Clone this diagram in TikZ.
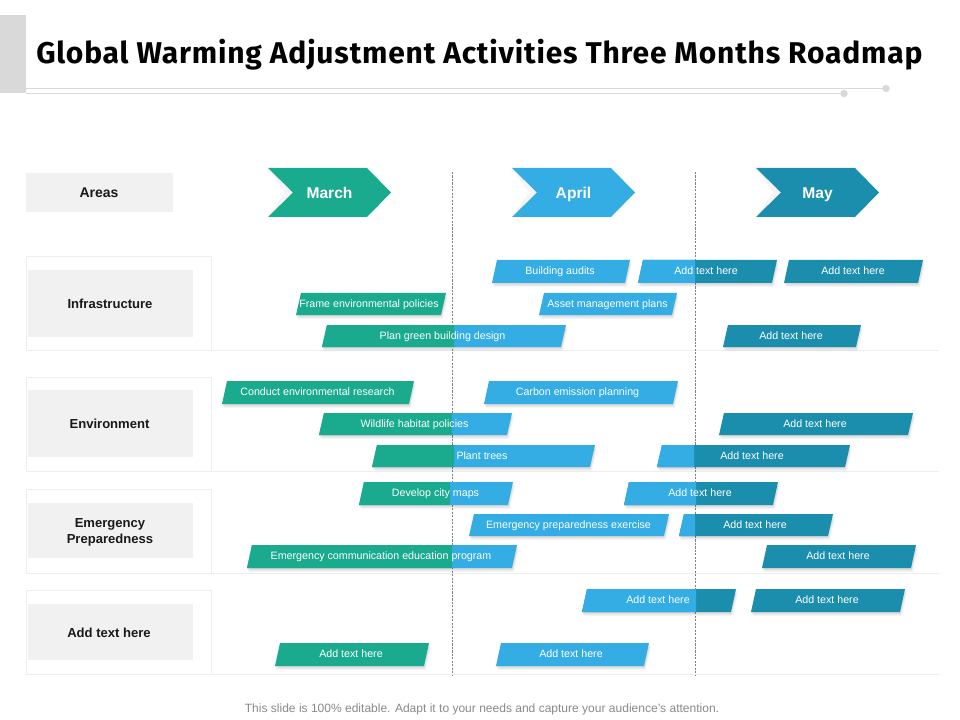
\documentclass[tikz,border=0pt]{standalone}
\usepackage{fontspec}
\setmainfont{Liberation Sans}
\newfontfamily\titlefont[LetterSpace=2.7]{Fira Sans}
\definecolor{cgreen}{HTML}{1AAB8E}
\definecolor{cblue}{HTML}{33ADE3}
\definecolor{cteal}{HTML}{1B8EAE}
\definecolor{cbox}{HTML}{F1F1F1}
\definecolor{cframe}{HTML}{EEEEEE}
\definecolor{crule}{HTML}{D9D9D9}
\definecolor{cdash}{HTML}{7F7F7F}
\definecolor{cfoot}{HTML}{8A8A8A}
\tikzset{
  x=0.75pt,y=-0.75pt,
  bartext/.style={font=\fontsize{8}{9.6}\selectfont,text=white,inner sep=0pt,text height=6pt,text depth=1.8pt,anchor=center},
  monthtext/.style={font=\fontsize{11.7}{14}\selectfont\bfseries,text=white,inner sep=0pt,text height=8.5pt,text depth=2.4pt,anchor=center},
  areatext/.style={font=\fontsize{9.8}{12}\selectfont\bfseries,text=black!90,inner sep=0pt,anchor=center,align=center},
  areabox/.style={fill=cbox,draw=none},
  framerule/.style={draw=cframe,line width=0.6pt},
  toprule/.style={draw=crule,line width=0.9pt},
  monthrule/.style={draw=cdash,line width=0.6pt,dash pattern=on 1.6pt off 1pt},
  shadowlayer/.style={fill=black,opacity=0.04,draw=none},
}
% shadow, then bar polygon(s)
\newcommand{\barshadow}[4]{%
  \foreach \dx/\dy in {0/1,1/2,1/3,2/4}{
    \fill[shadowlayer] ({#1+\dx},{#4+\dy}) -- ({#1+5+\dx},{#3+\dy}) -- ({#2+\dx},{#3+\dy}) -- ({#2-5+\dx},{#4+\dy}) -- cycle;
  }}
% name, bottom-left x, top-right x, top y, bottom y, text x, colour, text
\newcommand{\onebar}[8]{%
  \barshadow{#2}{#3}{#4}{#5}
  \fill[#7] (#2,#5) -- ({#2+5},#4) -- (#3,#4) -- ({#3-5},#5) -- cycle;
  \node[bartext] (#1) at (#6,{(#4+#5)/2+0.3}) {#8};}
% name, bottom-left x, top-right x, top y, bottom y, text x, left colour, right colour, split x, text
\newcommand{\twobar}[9]{%
  \def\barname{#1}\def\barl{#2}\def\barr{#3}\def\bart{#4}\def\barb{#5}\def\bartx{#6}\def\barca{#7}\def\barcb{#8}\def\barsp{#9}%
  \twobarfinish}
\newcommand{\twobarfinish}[1]{%
  \barshadow{\barl}{\barr}{\bart}{\barb}
  \fill[\barcb] (\barl,\barb) -- ({\barl+5},\bart) -- (\barr,\bart) -- ({\barr-5},\barb) -- cycle;
  \fill[\barca] (\barl,\barb) -- ({\barl+5},\bart) -- (\barsp,\bart) -- (\barsp,\barb) -- cycle;
  \node[bartext] (\barname) at (\bartx,{(\bart+\barb)/2+0.3}) {#1};}
% name, left x, colour, text x, text
\newcommand{\chevron}[5]{%
  \fill[black!4] (#2,168) -- ({#2+25},192.5) -- (#2,217) -- ({#2+17},192.5) -- cycle;
  \fill[#3] (#2,168) -- ({#2+99},168) -- ({#2+123},192.5) -- ({#2+99},217) -- (#2,217) -- ({#2+25},192.5) -- cycle;
  \node[monthtext] (#1) at (#4,194) {#5};}
% name, top, bottom, box top, box bottom, text x, text y, text
\newcommand{\arearow}[8]{%
  \draw[framerule] (939,#3) -- (26.5,#3) -- (26.5,#2) -- (211,#2) -- (211,#3);
  \fill[areabox] (28,#4) rectangle (193,#5);
  \node[areatext] (#1) at (#6,#7) {#8};}
\begin{document}
\begin{tikzpicture}
\useasboundingbox (0,0) rectangle (960,720);
\fill[white] (0,0) rectangle (960,720);
% header
\fill[crule] (0,15) rectangle (26,93);
\draw[toprule] (26,88.5) -- (886,88.5);
\draw[toprule] (26,93.5) -- (844,93.5);
\fill[crule] (886,88.5) circle (3.7);
\fill[crule] (844,93.5) circle (3.7);
\node[font=\titlefont\fontsize{22.5}{27}\selectfont\bfseries,text=black,inner sep=0pt,anchor=west] (title) at (36,54.5) {Global Warming Adjustment Activities Three Months Roadmap};
% areas header
\fill[areabox] (26,173) rectangle (173,212);
\node[areatext,font=\fontsize{10.5}{12}\selectfont\bfseries] (areas) at (99,193) {Areas};
% rows
\arearow{rowa}{256}{350.5}{270}{337}{110}{303.5}{Infrastructure}
\arearow{rowb}{377}{471.5}{390}{457}{109.5}{423.5}{Environment}
\arearow{rowc}{489}{573}{503}{558}{110}{532}{Emergency\\[0pt]Preparedness}
\arearow{rowd}{590.5}{674}{604}{660}{109}{632.5}{Add text here}
% month dividers
\draw[monthrule] (452.5,172) -- (452.5,675);
\draw[monthrule] (695.5,172) -- (695.5,675);
% months
\chevron{march}{268}{cgreen}{329.5}{March}
\chevron{april}{512}{cblue}{573.5}{April}
\chevron{may}{756}{cteal}{817.5}{May}
% row 1
\onebar{b1}{492}{630}{260}{283}{560}{cblue}{Building audits}
\twobar{b2}{638}{777}{260}{283}{706}{cblue}{cteal}{695}{Add text here}
\onebar{b3}{784}{923}{260}{283}{853}{cteal}{Add text here}
\onebar{b4}{296}{446}{293}{315}{369}{cgreen}{Frame environmental policies}
\onebar{b5}{539}{677}{293}{315}{607.5}{cblue}{Asset management plans}
\twobar{b6}{322}{566}{325}{347}{442.5}{cgreen}{cblue}{454}{Plan green building design}
\onebar{b7}{723}{861}{325}{347}{791}{cteal}{Add text here}
% row 2
\onebar{b8}{222}{414}{381}{404}{317.5}{cgreen}{Conduct environmental research}
\onebar{b9}{484}{678}{381}{404}{577.5}{cblue}{Carbon emission planning}
\twobar{b10}{319}{512}{413}{435}{414.5}{cgreen}{cblue}{452}{Wildlife habitat policies}
\onebar{b11}{719}{913}{413}{435}{815}{cteal}{Add text here}
\twobar{b12}{372}{595}{445}{467}{482}{cgreen}{cblue}{454}{Plant trees}
\twobar{b13}{657}{850}{445}{467}{752}{cblue}{cteal}{694}{Add text here}
% row 3
\twobar{b14}{359}{513}{482}{505}{435.5}{cgreen}{cblue}{450}{Develop city maps}
\twobar{b15}{624}{778}{482}{505}{700}{cblue}{cteal}{696}{Add text here}
\onebar{b16}{469}{669}{514}{536}{568.5}{cblue}{Emergency preparedness exercise}
\twobar{b17}{679}{833}{514}{536}{755}{cblue}{cteal}{695}{Add text here}
\twobar{b18}{247}{517}{545}{568}{381}{cgreen}{cblue}{452}{Emergency communication education program}
\onebar{b19}{762}{916}{545}{568}{838}{cteal}{Add text here}
% row 4
\twobar{b20}{582}{736}{589}{612}{658}{cblue}{cteal}{696}{Add text here}
\onebar{b21}{751}{905}{589}{612}{827}{cteal}{Add text here}
\onebar{b22}{275}{429}{643}{666}{351}{cgreen}{Add text here}
\onebar{b23}{496}{649}{643}{666}{571}{cblue}{Add text here}
% footer
\node[font=\fontsize{9.02}{10}\selectfont,text=cfoot,inner sep=0pt,anchor=center] (foot) at (482,709) {This slide is 100\% editable. Adapt it to your needs and capture your audience's attention.};
\end{tikzpicture}
\end{document}
